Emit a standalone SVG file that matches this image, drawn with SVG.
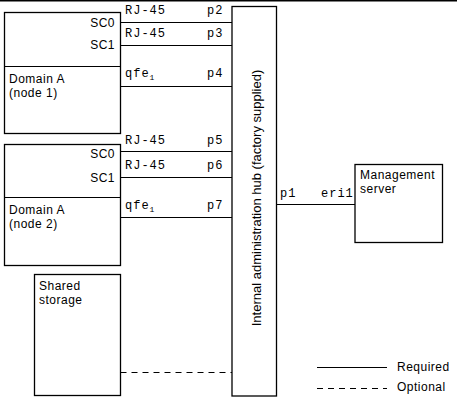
<svg xmlns="http://www.w3.org/2000/svg" width="457" height="402" viewBox="0 0 457 402">
<style>
.box{fill:#fff;stroke:#000;stroke-width:1.3}
.ln{stroke:#000;stroke-width:1;fill:none}
.dash{stroke-dasharray:6,5}
.s{font-family:"Liberation Sans",Arial,sans-serif;font-size:12px;letter-spacing:0.5px;fill:#000}
.h{font-family:"Liberation Sans",Arial,sans-serif;font-size:13px;fill:#000}
.m{font-family:"Liberation Mono","Courier New",monospace;font-size:12px;letter-spacing:1px;fill:#000}
.sub{font-size:8px;letter-spacing:0}
</style>
<rect width="457" height="402" fill="#fff"/>
<line x1="0" y1="0.75" x2="457" y2="0.75" stroke="#000" stroke-width="1.5"/>
<g id="connectors">
<line class="ln" x1="120.5" y1="22.5" x2="232" y2="22.5"/>
<line class="ln" x1="120.5" y1="45.5" x2="232" y2="45.5"/>
<line class="ln" x1="120.5" y1="86.5" x2="232" y2="86.5"/>
<line class="ln" x1="120.5" y1="151.5" x2="232" y2="151.5"/>
<line class="ln" x1="120.5" y1="177.5" x2="232" y2="177.5"/>
<line class="ln" x1="120.5" y1="217.5" x2="232" y2="217.5"/>
<line class="ln dash" x1="120.5" y1="372.5" x2="232" y2="372.5"/>
<line class="ln" x1="276.5" y1="204.5" x2="355" y2="204.5"/>
<text class="m" x="125" y="14">RJ-45</text><text class="m" x="207" y="14">p2</text>
<text class="m" x="125" y="37">RJ-45</text><text class="m" x="207" y="37">p3</text>
<text class="m" x="125" y="77">qfe<tspan class="sub" dy="3">1</tspan></text><text class="m" x="207" y="77">p4</text>
<text class="m" x="125" y="144">RJ-45</text><text class="m" x="207" y="144">p5</text>
<text class="m" x="125" y="169">RJ-45</text><text class="m" x="207" y="169">p6</text>
<text class="m" x="125" y="209">qfe<tspan class="sub" dy="3">1</tspan></text><text class="m" x="207" y="209">p7</text>
<text class="m" x="280" y="197">p1</text><text class="m" x="321" y="197">eri1</text>
</g>
<g id="node1">
<rect class="box" x="4.5" y="12.5" width="116" height="121"/>
<line class="ln" x1="4.5" y1="66.5" x2="120.5" y2="66.5" stroke-width="1.3"/>
<text class="s" x="115" y="27" text-anchor="end">SC0</text>
<text class="s" x="115" y="49" text-anchor="end">SC1</text>
<text class="s" x="9" y="83">Domain A</text>
<text class="s" x="9" y="96.5">(node 1)</text>
</g>
<g id="node2">
<rect class="box" x="4.5" y="144.5" width="116" height="121"/>
<line class="ln" x1="4.5" y1="197.5" x2="120.5" y2="197.5" stroke-width="1.3"/>
<text class="s" x="115" y="158" text-anchor="end">SC0</text>
<text class="s" x="115" y="182" text-anchor="end">SC1</text>
<text class="s" x="9" y="214">Domain A</text>
<text class="s" x="9" y="228">(node 2)</text>
</g>
<g id="storage">
<rect class="box" x="34.5" y="274.5" width="86" height="121"/>
<text class="s" x="39" y="290">Shared</text>
<text class="s" x="39" y="303.5">storage</text>
</g>
<g id="hub">
<rect class="box" x="232" y="6.5" width="44.5" height="389.5"/>
<text class="h" transform="translate(261,198) rotate(-90)" text-anchor="middle">Internal administration hub (factory supplied)</text>
</g>
<g id="mgmt">
<rect class="box" x="355" y="164.5" width="87.5" height="78"/>
<text class="s" x="360" y="179">Management</text>
<text class="s" x="360" y="192.5">server</text>
</g>
<g id="legend">
<line class="ln" x1="317" y1="367.5" x2="387" y2="367.5"/>
<line class="ln dash" x1="317" y1="388.5" x2="387" y2="388.5"/>
<text class="s" x="397" y="371">Required</text>
<text class="s" x="397" y="391">Optional</text>
</g>
</svg>
